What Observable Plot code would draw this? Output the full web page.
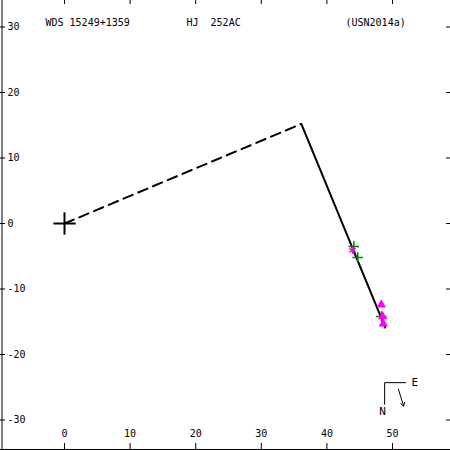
<!DOCTYPE html>
<html>
<head>
<meta charset="utf-8">
<script src="https://cdn.jsdelivr.net/npm/d3@7"></script>
<script src="https://cdn.jsdelivr.net/npm/@observablehq/plot@0.6"></script>
<style>
  body { margin: 0; background: #fff; }
  svg text { white-space: pre; }
</style>
</head>
<body>
<div id="chart"></div>
<script>
// ---- data ----
const titleTexts = ["WDS 15249+1359", "HJ  252AC", "(USN2014a)"];
const xTicks = [0, 10, 20, 30, 40, 50];
const yTicks = [30, 20, 10, 0, -10, -20, -30];
const dashedX = [0, 36.1];
const dashedY = [0, 15.2];
const orbitX = [36.1, 48.9];
const orbitY = [15.2, -15.9];
const greenX = [44.1, 44.7, 48.3];
const greenY = [-3.5, -5.2, -14.2];
const starX = [43.9];
const starY = [-4.1];
const triX = [48.3, 48.5, 48.6];
const triY = [-12.4, -14.2, -15.3];
const compassX = [48.8, 48.8, 52.0];
const compassY = [-27.6, -24.3, -24.3];
const arrowX = [50.9, 51.7];
const arrowY = [-25.3, -27.9];
const originX = 0, originY = 0, crossArm = 1.7;

// ---- scales ----
const sx = 6.56, sy = 6.55;
const xmin = -64 / sx, xmax = (450 - 64) / sx;
const ymax = 223 / sy, ymin = (223 - 450) / sy;

const font = "DejaVu Sans Mono";
const dashed = dashedX.map((x, i) => ({x, y: dashedY[i]}));
const orbit = orbitX.map((x, i) => ({x, y: orbitY[i]}));
const green = greenX.map((x, i) => ({x, y: greenY[i]}));
const star = starX.map((x, i) => ({x, y: starY[i]}));
const tri = triX.map((x, i) => ({x, y: triY[i]}));
const compass = compassX.map((x, i) => ({x, y: compassY[i]}));
const cross = [
  {x1: originX - crossArm, y1: originY, x2: originX + crossArm, y2: originY},
  {x1: originX, y1: originY - crossArm, x2: originX, y2: originY + crossArm}
];

const chart = Plot.plot({
  width: 450, height: 450, margin: 0,
  style: {fontFamily: font, fontSize: "10px", background: "#fff", color: "#000"},
  x: {domain: [xmin, xmax], axis: null},
  y: {domain: [ymin, ymax], axis: null},
  marks: [
    // frame (left & bottom)
    Plot.ruleX([xmin], {dx: 1.5, stroke: "#000", strokeWidth: 1}),
    Plot.ruleY([ymin], {dy: -1, stroke: "#000", strokeWidth: 1}),
    // ticks
    Plot.ruleX(xTicks, {x: d => d, y1: ymax, y2: ymax - 4 / sy, stroke: "#000"}),
    Plot.ruleX(xTicks, {x: d => d, y1: ymin, y2: ymin + 7 / sy, stroke: "#000"}),
    Plot.ruleY(yTicks, {y: d => d, x1: xmin, x2: xmin + 5 / sx, stroke: "#000"}),
    Plot.ruleY(yTicks, {y: d => d, x1: xmax, x2: xmax - 4 / sx, stroke: "#000"}),
    // tick labels
    Plot.text(yTicks, {y: d => d, x: xmin, dx: 7, text: d => String(d), textAnchor: "start", fill: "#000"}),
    Plot.text(xTicks, {x: d => d, frameAnchor: "bottom", dy: -14, text: d => String(d), fill: "#000"}),
    // title
    Plot.text([titleTexts[0]], {frameAnchor: "top-left", dx: 45, dy: 18, text: d => d, textAnchor: "start", fill: "#000"}),
    Plot.text([titleTexts[1]], {frameAnchor: "top-left", dx: 186, dy: 18, text: d => d, textAnchor: "start", fill: "#000"}),
    Plot.text([titleTexts[2]], {frameAnchor: "top-left", dx: 345, dy: 18, text: d => d, textAnchor: "start", fill: "#000"}),
    // lines
    Plot.line(dashed, {x: "x", y: "y", stroke: "#000", strokeWidth: 2, strokeDasharray: "10,6"}),
    Plot.line(orbit, {x: "x", y: "y", stroke: "#000", strokeWidth: 2}),
    // origin cross
    Plot.link(cross, {x1: "x1", y1: "y1", x2: "x2", y2: "y2", stroke: "#000", strokeWidth: 2}),
    // measures
    Plot.dot(green, {x: "x", y: "y", symbol: "plus", r: 3.5, stroke: "#008000", strokeWidth: 1.5}),
    Plot.dot(star, {x: "x", y: "y", symbol: "asterisk", r: 3.5, stroke: "#ff00ff", strokeWidth: 1.5}),
    Plot.dot(tri, {x: "x", y: "y", symbol: "triangle", r: 3.5, fill: "#ff00ff", stroke: "none"}),
    // compass
    Plot.line(compass, {x: "x", y: "y", stroke: "#000", strokeWidth: 1}),
    Plot.text(["E"], {x: compassX[2], y: compassY[2], dx: 6, text: d => d, textAnchor: "start", fill: "#000", fontSize: 11}),
    Plot.text(["N"], {x: compassX[0], y: compassY[0], dx: -2, dy: 7, text: d => d, fill: "#000", fontSize: 11}),
    Plot.arrow([{x1: arrowX[0], y1: arrowY[0], x2: arrowX[1], y2: arrowY[1]}],
      {x1: "x1", y1: "y1", x2: "x2", y2: "y2", stroke: "#000", strokeWidth: 1, headLength: 6})
  ]
});
document.getElementById("chart").appendChild(chart);
</script>
</body>
</html>
